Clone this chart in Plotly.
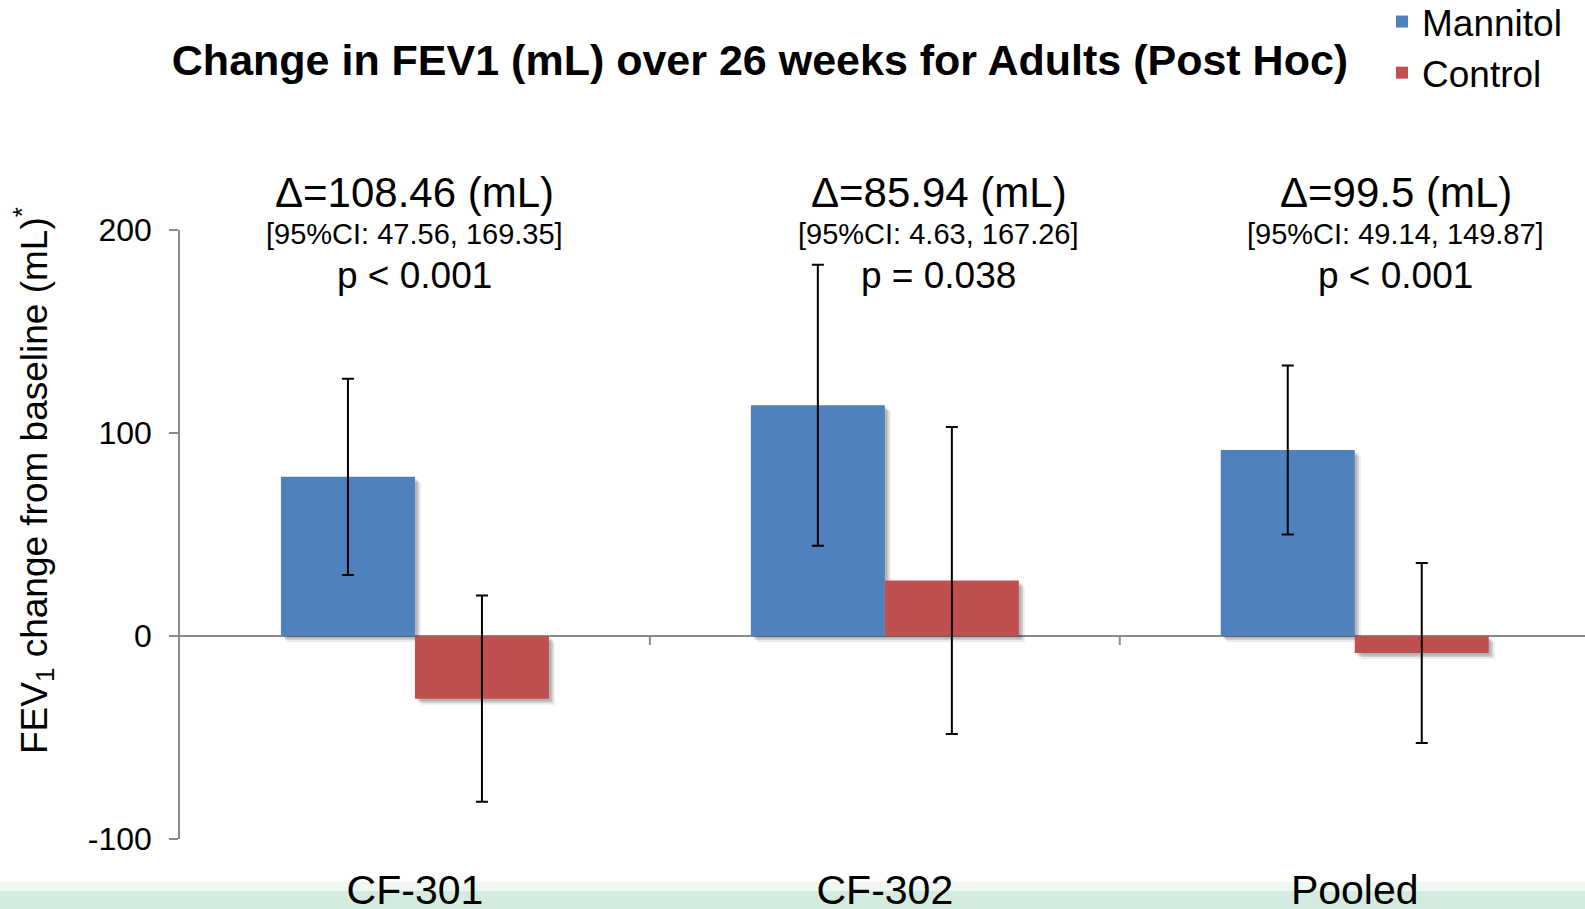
import plotly.graph_objects as go

# ---- data ----
categories = ["CF-301", "CF-302", "Pooled"]
mannitol = [78.4, 113.7, 91.6]
mannitol_err = [48.3, 69.2, 41.6]
control = [-30.9, 27.3, -8.4]
control_err = [50.8, 75.6, 44.3]
delta_text = ["Δ=108.46 (mL)", "Δ=85.94 (mL)", "Δ=99.5 (mL)"]
ci_text = ["[95%CI: 47.56, 169.35]", "[95%CI: 4.63, 167.26]", "[95%CI: 49.14, 149.87]"]
p_text = ["p < 0.001", "p = 0.038", "p < 0.001"]
y_ticks = [-100, 0, 100, 200]
y_ticktext = ["-100", "0", "100", "200"]

# ---- styling ----
FONT = "Arial, 'Liberation Sans', sans-serif"
BLUE = "#4f81bd"
RED = "#c0504d"
GREY = "#8a8a8a"
W, H = 1585, 909
ML, MR, MT, MB = 180, 0, 230, 70
plot_w = W - ML - MR
x_range = [-0.5, 2.49]
px_per_cat = plot_w / (x_range[1] - x_range[0])
y_range = [-100, 200]
plot_h = H - MT - MB
px_per_unit = plot_h / (y_range[1] - y_range[0])
bar_w = 134 / px_per_cat

fig = go.Figure()

# soft drop shadows (same data, shifted a few pixels right/down)
for dpx, alpha in [(6, 0.08), (4, 0.12), (2.5, 0.12)]:
    dx = dpx / px_per_cat
    dy = dpx / px_per_unit
    for vals, off in [(mannitol, -bar_w), (control, 0.0)]:
        fig.add_trace(go.Bar(
            x=categories, y=vals, base=[-dy] * len(vals),
            offset=off + dx, width=bar_w,
            marker=dict(color=f"rgba(0,0,0,{alpha})", line=dict(width=0)),
            showlegend=False, hoverinfo="skip",
        ))

fig.add_trace(go.Bar(
    name="Mannitol", x=categories, y=mannitol, offset=-bar_w, width=bar_w,
    marker=dict(color=BLUE, line=dict(width=0)),
    error_y=dict(type="data", array=mannitol_err, color="black", thickness=2, width=6),
))
fig.add_trace(go.Bar(
    name="Control", x=categories, y=control, offset=0, width=bar_w,
    marker=dict(color=RED, line=dict(width=0)),
    error_y=dict(type="data", array=control_err, color="black", thickness=2, width=6),
))

def ypaper(px):
    return (H - MB - px) / plot_h

def xpaper(px):
    return (px - ML) / plot_w

# annotations above each group
xshifts = [0, 54, 41]
annotations = []
for i, cat in enumerate(categories):
    for txt, ypx, size in [(delta_text[i], 192, 42), (ci_text[i], 234, 29), (p_text[i], 275, 37)]:
        annotations.append(dict(
            x=cat, xref="x", y=ypaper(ypx), yref="paper", text=txt,
            xshift=xshifts[i], showarrow=False, xanchor="center", yanchor="middle",
            font=dict(family=FONT, size=size, color="black"),
        ))

# y-axis title
annotations.append(dict(
    x=xpaper(33), xref="paper", y=ypaper(481), yref="paper",
    text="FEV<sub>1</sub> change from baseline (mL)<sup>*</sup>",
    textangle=-90, showarrow=False, xanchor="center", yanchor="middle",
    font=dict(family=FONT, size=37, color="black"),
))

shapes = [
    # light green band at bottom of slide
    dict(type="rect", xref="paper", yref="paper", layer="below",
         x0=-ML / plot_w, x1=1, y0=-MB / plot_h - 0.01, y1=ypaper(891),
         fillcolor="#d5ebdf", line=dict(width=0)),
    dict(type="rect", xref="paper", yref="paper", layer="below",
         x0=-ML / plot_w, x1=1, y0=ypaper(891), y1=ypaper(882),
         fillcolor="#eef7f2", line=dict(width=0)),
]
# category divider ticks on the zero line
for b in [0.5, 1.5]:
    shapes.append(dict(type="line", xref="x", yref="y", x0=b, x1=b,
                       ysizemode="pixel", yanchor=0, y0=0, y1=-9,
                       line=dict(color=GREY, width=2)))

fig.update_layout(
    width=W, height=H,
    margin=dict(l=ML, r=MR, t=MT, b=MB, autoexpand=False),
    paper_bgcolor="white", plot_bgcolor="white",
    barmode="overlay",
    font=dict(family=FONT, color="black"),
    title=dict(text="<b>Change in FEV1 (mL) over 26 weeks for Adults (Post Hoc)</b>",
               x=760 / W, xref="container", xanchor="center",
               y=1 - 60 / H, yref="container", yanchor="middle",
               font=dict(family=FONT, size=43, color="black")),
    legend=dict(x=1382 / W, xref="container", xanchor="left",
                y=ypaper(-9), yref="paper", yanchor="top",
                font=dict(family=FONT, size=37, color="black"),
                bgcolor="rgba(0,0,0,0)", itemclick=False, tracegroupgap=0),
    xaxis=dict(range=x_range, showgrid=False, zeroline=False, showline=False,
               ticks="", tickfont=dict(family=FONT, size=41, color="black"),
               ticklabelstandoff=23, fixedrange=True),
    yaxis=dict(range=y_range, tickvals=y_ticks, ticktext=y_ticktext, showgrid=False,
               zeroline=True, zerolinecolor=GREY, zerolinewidth=2,
               showline=True, linecolor=GREY, linewidth=1.5,
               ticks="outside", ticklen=9, tickcolor=GREY, tickwidth=1.5,
               tickfont=dict(family=FONT, size=32, color="black"),
               ticklabelstandoff=11,
               automargin=False, fixedrange=True),
    annotations=annotations,
    shapes=shapes,
)

fig.write_html("out.html", config={"displayModeBar": False},
               post_script="document.body.style.margin='0';document.body.style.overflow='hidden';")
